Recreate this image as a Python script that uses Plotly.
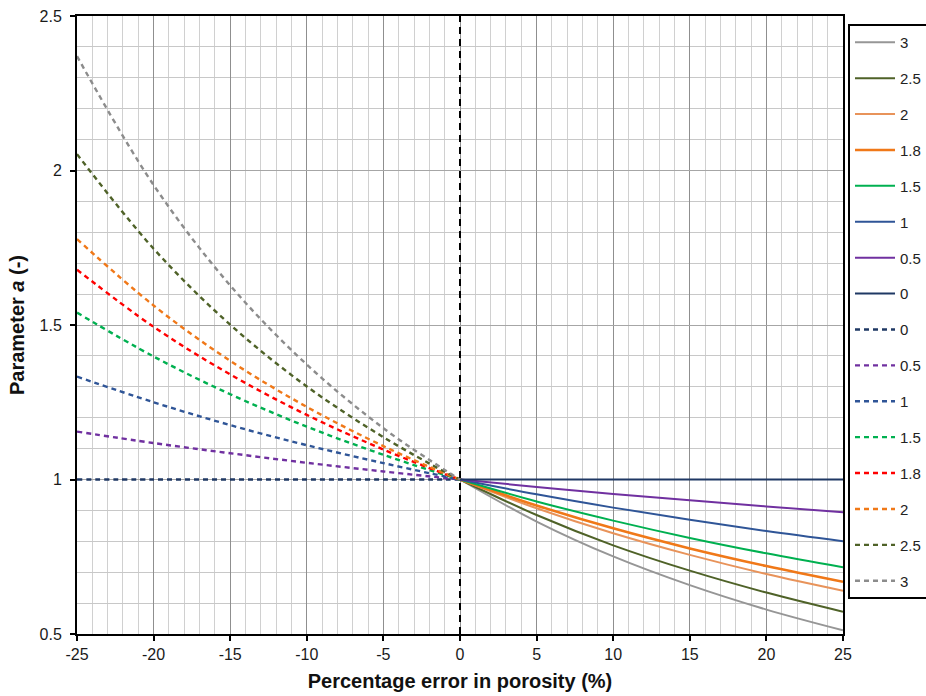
import plotly.graph_objects as go

# x positions (percentage error in porosity)
x_neg = [-25, -20, -15, -10, -5, -1, 0]
x_pos = [0, 5, 10, 15, 20, 25]

# Axis tick labels
x_tickvals = [-25, -20, -15, -10, -5, 0, 5, 10, 15, 20, 25]
x_ticktext = ["-25", "-20", "-15", "-10", "-5", "0", "5", "10", "15", "20", "25"]
y_tickvals = [0.5, 1, 1.5, 2, 2.5]
y_ticktext = ["0.5", "1", "1.5", "2", "2.5"]

# Exponent labels (legend)
m_solid = ["3", "2.5", "2", "1.8", "1.5", "1", "0.5", "0"]
m_dash = ["0", "0.5", "1", "1.5", "1.8", "2", "2.5", "3"]

# Parameter a, positive error side (solid lines)
a_pos_3 = [1.0, 0.864, 0.751, 0.658, 0.579, 0.512]
a_pos_25 = [1.0, 0.885, 0.787, 0.705, 0.634, 0.572]
a_pos_2 = [1.0, 0.907, 0.826, 0.756, 0.694, 0.640]
a_pos_18 = [1.0, 0.916, 0.842, 0.777, 0.720, 0.669]
a_pos_15 = [1.0, 0.929, 0.867, 0.811, 0.761, 0.716]
a_pos_1 = [1.0, 0.952, 0.909, 0.870, 0.833, 0.800]
a_pos_05 = [1.0, 0.976, 0.953, 0.933, 0.913, 0.894]
a_pos_0 = [1.0, 1.0, 1.0, 1.0, 1.0, 1.0]

# Parameter a, negative error side (dashed lines)
a_neg_0 = [1.0, 1.0, 1.0, 1.0, 1.0, 1.0, 1.0]
a_neg_05 = [1.155, 1.118, 1.085, 1.054, 1.026, 1.005, 1.0]
a_neg_1 = [1.333, 1.250, 1.176, 1.111, 1.053, 1.010, 1.0]
a_neg_15 = [1.540, 1.398, 1.276, 1.171, 1.080, 1.015, 1.0]
a_neg_18 = [1.679, 1.494, 1.340, 1.209, 1.097, 1.018, 1.0]
a_neg_2 = [1.778, 1.563, 1.384, 1.235, 1.108, 1.020, 1.0]
a_neg_25 = [2.053, 1.747, 1.501, 1.301, 1.137, 1.025, 1.0]
a_neg_3 = [2.370, 1.953, 1.628, 1.372, 1.166, 1.031, 1.0]

solid_vals = [a_pos_3, a_pos_25, a_pos_2, a_pos_18, a_pos_15, a_pos_1, a_pos_05, a_pos_0]
dash_vals = [a_neg_0, a_neg_05, a_neg_1, a_neg_15, a_neg_18, a_neg_2, a_neg_25, a_neg_3]

solid_colors = ["#969696", "#4f6228", "#e8935a", "#f07818", "#00b050", "#2f5597", "#7030a0", "#1f3864"]
solid_widths = [2, 2, 2, 2.6, 2, 2, 2, 2]
dash_colors = ["#1f3864", "#7030a0", "#2f5597", "#00b050", "#ff0000", "#f07818", "#4f6228", "#8c8c8c"]

FONT = "Liberation Sans, Arial, sans-serif"

fig = go.Figure()
for i, (name, vals) in enumerate(zip(m_solid, solid_vals)):
    fig.add_trace(go.Scatter(
        x=x_pos, y=vals, mode="lines", name=name, line_shape="spline",
        line=dict(color=solid_colors[i], width=solid_widths[i]),
        legendgroup="s" + str(i),
    ))
for i, (name, vals) in enumerate(zip(m_dash, dash_vals)):
    fig.add_trace(go.Scatter(
        x=x_neg, y=vals, mode="lines", name=name, line_shape="spline",
        line=dict(color=dash_colors[i], width=2.4, dash="5px,4px"),
        legendgroup="d" + str(i),
    ))

fig.add_shape(type="line", x0=0, x1=0, y0=0.5, y1=2.5, xref="x", yref="y",
              line=dict(color="black", width=2, dash="7px,5px"))

fig.update_layout(
    width=926, height=696,
    margin=dict(l=77, r=83, t=16, b=62),
    plot_bgcolor="white", paper_bgcolor="white",
    font=dict(family=FONT, color="#222222", size=15),
    showlegend=True,
    legend=dict(
        xref="container", yref="container",
        x=848 / 926, xanchor="left", y=1 - 24 / 696, yanchor="top",
        bordercolor="black", borderwidth=2, bgcolor="white",
        font=dict(family=FONT, size=15, color="#222222"),
        tracegroupgap=13.4, itemwidth=40, maxheight=660,
    ),
    xaxis=dict(
        range=[-25, 25], tickvals=x_tickvals, ticktext=x_ticktext,
        automargin=False,
        showline=True, linecolor="black", linewidth=2, mirror=True,
        ticks="outside", ticklen=5, tickcolor="black", tickwidth=2,
        showgrid=True, gridcolor="#8f8f8f", gridwidth=1,
        minor=dict(dtick=1, tick0=0, showgrid=True, gridcolor="#d0d0d0", gridwidth=1),
        zeroline=False,
        tickfont=dict(family=FONT, size=16, color="#1a1a1a"),
        title=dict(text="<b>Percentage error in porosity (%)</b>",
                   font=dict(family=FONT, size=20, color="#111111"), standoff=12),
    ),
    yaxis=dict(
        range=[0.5, 2.5], tickvals=y_tickvals, ticktext=y_ticktext,
        automargin=False,
        showline=True, linecolor="black", linewidth=2, mirror=True,
        ticks="outside", ticklen=5, tickcolor="black", tickwidth=2,
        ticklabelstandoff=5,
        showgrid=True, gridcolor="#a6a6a6", gridwidth=1,
        minor=dict(dtick=0.1, tick0=0.5, showgrid=True, gridcolor="#c8c8c8", gridwidth=1),
        zeroline=False,
        tickfont=dict(family=FONT, size=16, color="#1a1a1a"),
        title=dict(text="<b>Parameter <i>a</i> (-)</b>",
                   font=dict(family=FONT, size=20, color="#111111"), standoff=10),
    ),
)

fig.write_html("out.html", config={"displayModeBar": False},
               post_script="document.body.style.margin='0';")
